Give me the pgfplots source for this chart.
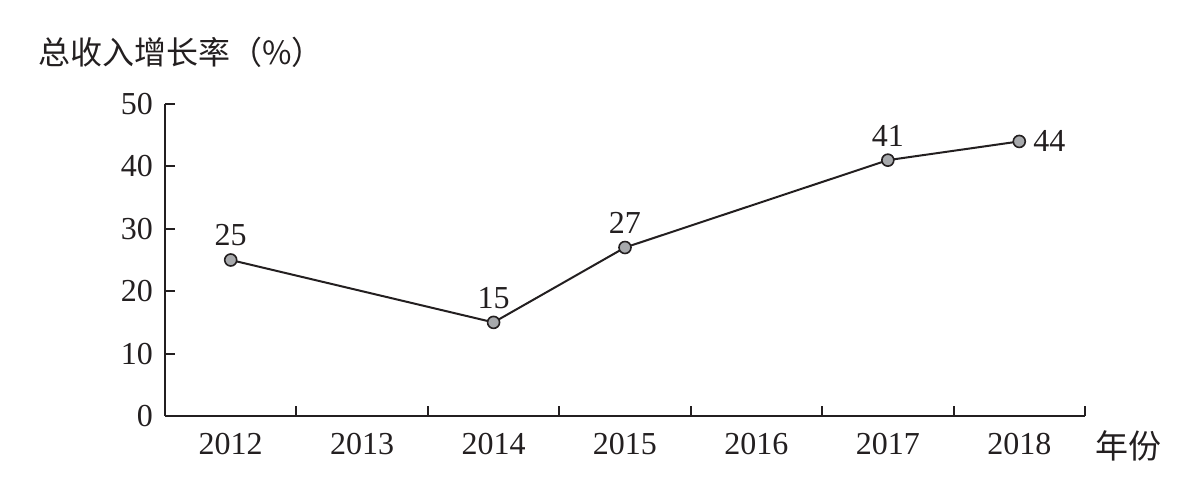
\documentclass[border=0pt]{standalone}
\usepackage{fontspec}
\setmainfont{Liberation Serif}
\newfontfamily\cjk{Noto Sans CJK SC}
\usepackage{pgfplots}
\pgfplotsset{compat=1.18}
\definecolor{ink}{HTML}{231F20}
\definecolor{dotgray}{HTML}{A7A9AC}
\begin{document}
\begin{tikzpicture}[x=1pt,y=1pt]
\useasboundingbox (-82.5,-33) rectangle (515.5,208);
\begin{axis}[
  at={(0,0)}, anchor=south west,
  scale only axis, width=460pt, height=156pt,
  xmin=-0.5, xmax=6.5, ymin=0, ymax=50,
  axis x line*=bottom, axis y line*=left,
  axis line style={-, line width=1pt, ink},
  xtick={0.5,1.5,...,6.5}, xticklabels={},
  extra x ticks={0,1,2,3,4,5,6},
  extra x tick labels={2012,2013,2014,2015,2016,2017,2018},
  extra x tick style={major tick length=0pt, xticklabel style={yshift=-5pt}},
  ytick={0,10,20,30,40,50},
  tick align=inside, major tick length=5pt,
  tick style={line width=1pt, ink},
  /pgf/number format/assume math mode=true,
  tick label style={font=\fontsize{16}{19}\selectfont, text=ink},
  yticklabel style={xshift=-2.5pt},
  clip=false,
]
\addplot[ink, line width=1pt, mark=*, mark size=3pt, mark options={fill=dotgray, draw=ink, line width=0.8pt}]
  coordinates {(0,25) (2,15) (3,27) (5,41) (6,44)};
\addplot[draw=none, mark=none, nodes near coords, nodes near coords align=above,
  every node near coord/.append style={font=\fontsize{16}{19}\selectfont, text=ink, yshift=3.5pt}]
  coordinates {(0,25) (2,15) (3,27) (5,41)};
\addplot[draw=none, mark=none, nodes near coords, nodes near coords align=right,
  every node near coord/.append style={font=\fontsize{16}{19}\selectfont, text=ink, xshift=3.5pt}]
  coordinates {(6,44)};
\end{axis}
\node[anchor=west, inner sep=0pt, text=ink] at (-63.5,182) {\fontsize{16}{19}\selectfont\cjk 总收入增长率（\%）};
\node[anchor=west, inner sep=0pt, text=ink] at (465,-15) {\fontsize{16.5}{19}\selectfont\cjk 年份};
\end{tikzpicture}
\end{document}
